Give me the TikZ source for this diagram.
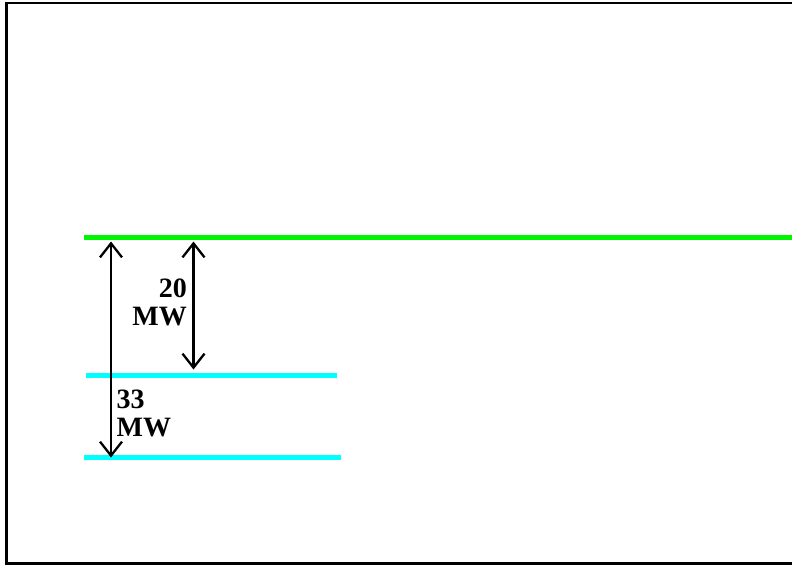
\documentclass[tikz,border=0pt]{standalone}
\usepackage{fontspec}
\setmainfont{Liberation Serif}
\usetikzlibrary{arrows.meta}
\definecolor{levelgreen}{RGB}{0,245,0}
\definecolor{levelcyan}{RGB}{0,255,255}
\tikzset{
  frame/.style={line width=2.4pt, draw=black},
  level/.style={line width=5pt},
  gap/.style={line width=2.3pt, {Straight Barb[length=14pt,width=22pt,line width=2.3pt]}-{Straight Barb[length=14pt,width=22pt,line width=2.3pt]}},
  energy/.style={inner sep=0pt, font=\bfseries\fontsize{28}{27.5}\selectfont}
}
\begin{document}
\begin{tikzpicture}[x=1pt,y=-1pt]
\useasboundingbox (0,0) rectangle (792,565);
% outer frame (right edge runs past the page)
\draw[frame] (6.5,3.2) rectangle (800,563.5);

% energy levels
\coordinate (topL) at (84,237.5);
\coordinate (topR) at (792,237.5);
\coordinate (midL) at (86,375);
\coordinate (midR) at (337,375);
\coordinate (lowL) at (84,457.5);
\coordinate (lowR) at (341,457.5);
\draw[level, levelgreen] (topL) -- (topR);
\draw[level, levelcyan] (midL) -- (midR);
\draw[level, levelcyan] (lowL) -- (lowR);

% energy gaps
\coordinate (a1t) at (111,241.5);
\coordinate (a1b) at (111,457.5);
\coordinate (a2t) at (193.5,241.5);
\coordinate (a2b) at (193.5,369.5);
\draw[gap] (a1t) -- (a1b);
\draw[gap] (a2t) -- (a2b);

% gap labels
\node[energy, anchor=north east, align=right] (l20) at (187,279) {20\\MW};
\node[energy, anchor=north west, align=left] (l33) at (116.5,390) {33\\MW};
\end{tikzpicture}
\end{document}
